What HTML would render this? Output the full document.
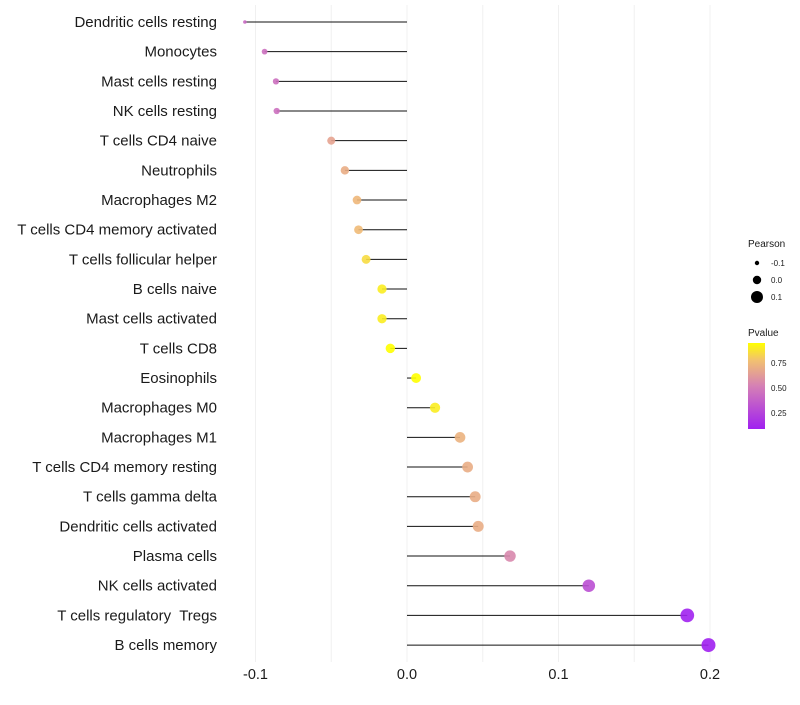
<!DOCTYPE html>
<html><head><meta charset="utf-8"><style>
body{margin:0;background:#fff;font-family:"Liberation Sans",sans-serif}
text{white-space:pre}
</style></head><body>
<svg id="chart" width="800" height="700" xmlns="http://www.w3.org/2000/svg">
<defs><linearGradient id="pg" x1="0" y1="1" x2="0" y2="0">
<stop offset="0" stop-color="#A020F0"/><stop offset="0.5" stop-color="#D580B5"/><stop offset="0.8" stop-color="#F2C170"/><stop offset="1" stop-color="#FFFF00"/></linearGradient></defs>
<g id="grid"></g><g id="marks"></g><g id="labels"></g>
<g font-size="10" fill="#1a1a1a">
<text x="748" y="247">Pearson</text>
<circle cx="757" cy="263" r="2.2" fill="#000"/><text x="771" y="266" font-size="8">-0.1</text>
<circle cx="757" cy="280" r="4.2" fill="#000"/><text x="771" y="283" font-size="8">0.0</text>
<circle cx="757" cy="297" r="6" fill="#000"/><text x="771" y="300" font-size="8">0.1</text>
<text x="748" y="336">Pvalue</text>
<rect x="748" y="343" width="17" height="86" fill="url(#pg)"/>
<text x="771" y="366" font-size="8">0.75</text><text x="771" y="391" font-size="8">0.50</text><text x="771" y="416" font-size="8">0.25</text>
</g>
</svg>
<script>
const cells=["Dendritic cells resting","Monocytes","Mast cells resting","NK cells resting","T cells CD4 naive","Neutrophils","Macrophages M2","T cells CD4 memory activated","T cells follicular helper","B cells naive","Mast cells activated","T cells CD8","Eosinophils","Macrophages M0","Macrophages M1","T cells CD4 memory resting","T cells gamma delta","Dendritic cells activated","Plasma cells","NK cells activated","T cells regulatory  Tregs","B cells memory"];
const pearson=[-0.107,-0.094,-0.0865,-0.086,-0.050,-0.041,-0.033,-0.032,-0.027,-0.0165,-0.0165,-0.011,0.006,0.0185,0.035,0.040,0.045,0.047,0.068,0.120,0.185,0.199];
const pvals=[0.42,0.45,0.45,0.45,0.66,0.70,0.74,0.75,0.85,0.9,0.9,0.95,0.95,0.9,0.72,0.7,0.7,0.7,0.55,0.3,0.1,0.09];
const ticks=[-0.1,0,0.1,0.2];
const ns="http://www.w3.org/2000/svg";
const X=v=>407+v*1515, Y=i=>22+i*29.67;
const pmin=Math.min(...pearson), pmax=Math.max(...pearson);
const R=v=>1.8+5.2*Math.sqrt((v-pmin)/(pmax-pmin));
const stops=[[0,[160,32,240]],[0.5,[213,128,181]],[0.8,[242,193,112]],[1,[255,255,0]]];
function col(p){let t=(p-0.09)/(0.95-0.09);t=Math.max(0,Math.min(1,t));
for(let k=1;k<stops.length;k++){if(t<=stops[k][0]){const a=stops[k-1],b=stops[k],f=(t-a[0])/(b[0]-a[0]);return 'rgb('+a[1].map((c,j)=>Math.round(c+(b[1][j]-c)*f)).join(',')+')';}}return 'rgb(255,255,0)';}
function mk(t,a,p){const e=document.createElementNS(ns,t);for(const k in a)e.setAttribute(k,a[k]);p.appendChild(e);return e;}
const G=document.getElementById('grid'),M=document.getElementById('marks'),L=document.getElementById('labels');
for(let v=-0.1;v<=0.2001;v+=0.05){const g=mk('line',{x1:X(v),x2:X(v),y1:5,y2:662,stroke:'#f0f0f0','stroke-width':1},G);

}
ticks.forEach(v=>{const t=mk('text',{x:X(v),y:679,'text-anchor':'middle','font-size':14.5,fill:'#1a1a1a'},L);t.textContent=v.toFixed(1);

});
cells.forEach((c,i)=>{const y=Y(i);
const t=mk('text',{x:217,y:y+5,'text-anchor':'end','font-size':15,fill:'#1a1a1a'},L);t.textContent=c;


const l=mk('line',{x1:X(0),x2:X(pearson[i]),y1:y,y2:y,stroke:'#111','stroke-width':1},M);


const d=mk('circle',{cx:X(pearson[i]),cy:y,r:R(pearson[i]),fill:col(pvals[i]),'fill-opacity':0.9},M);

});
</script>
</body></html>
